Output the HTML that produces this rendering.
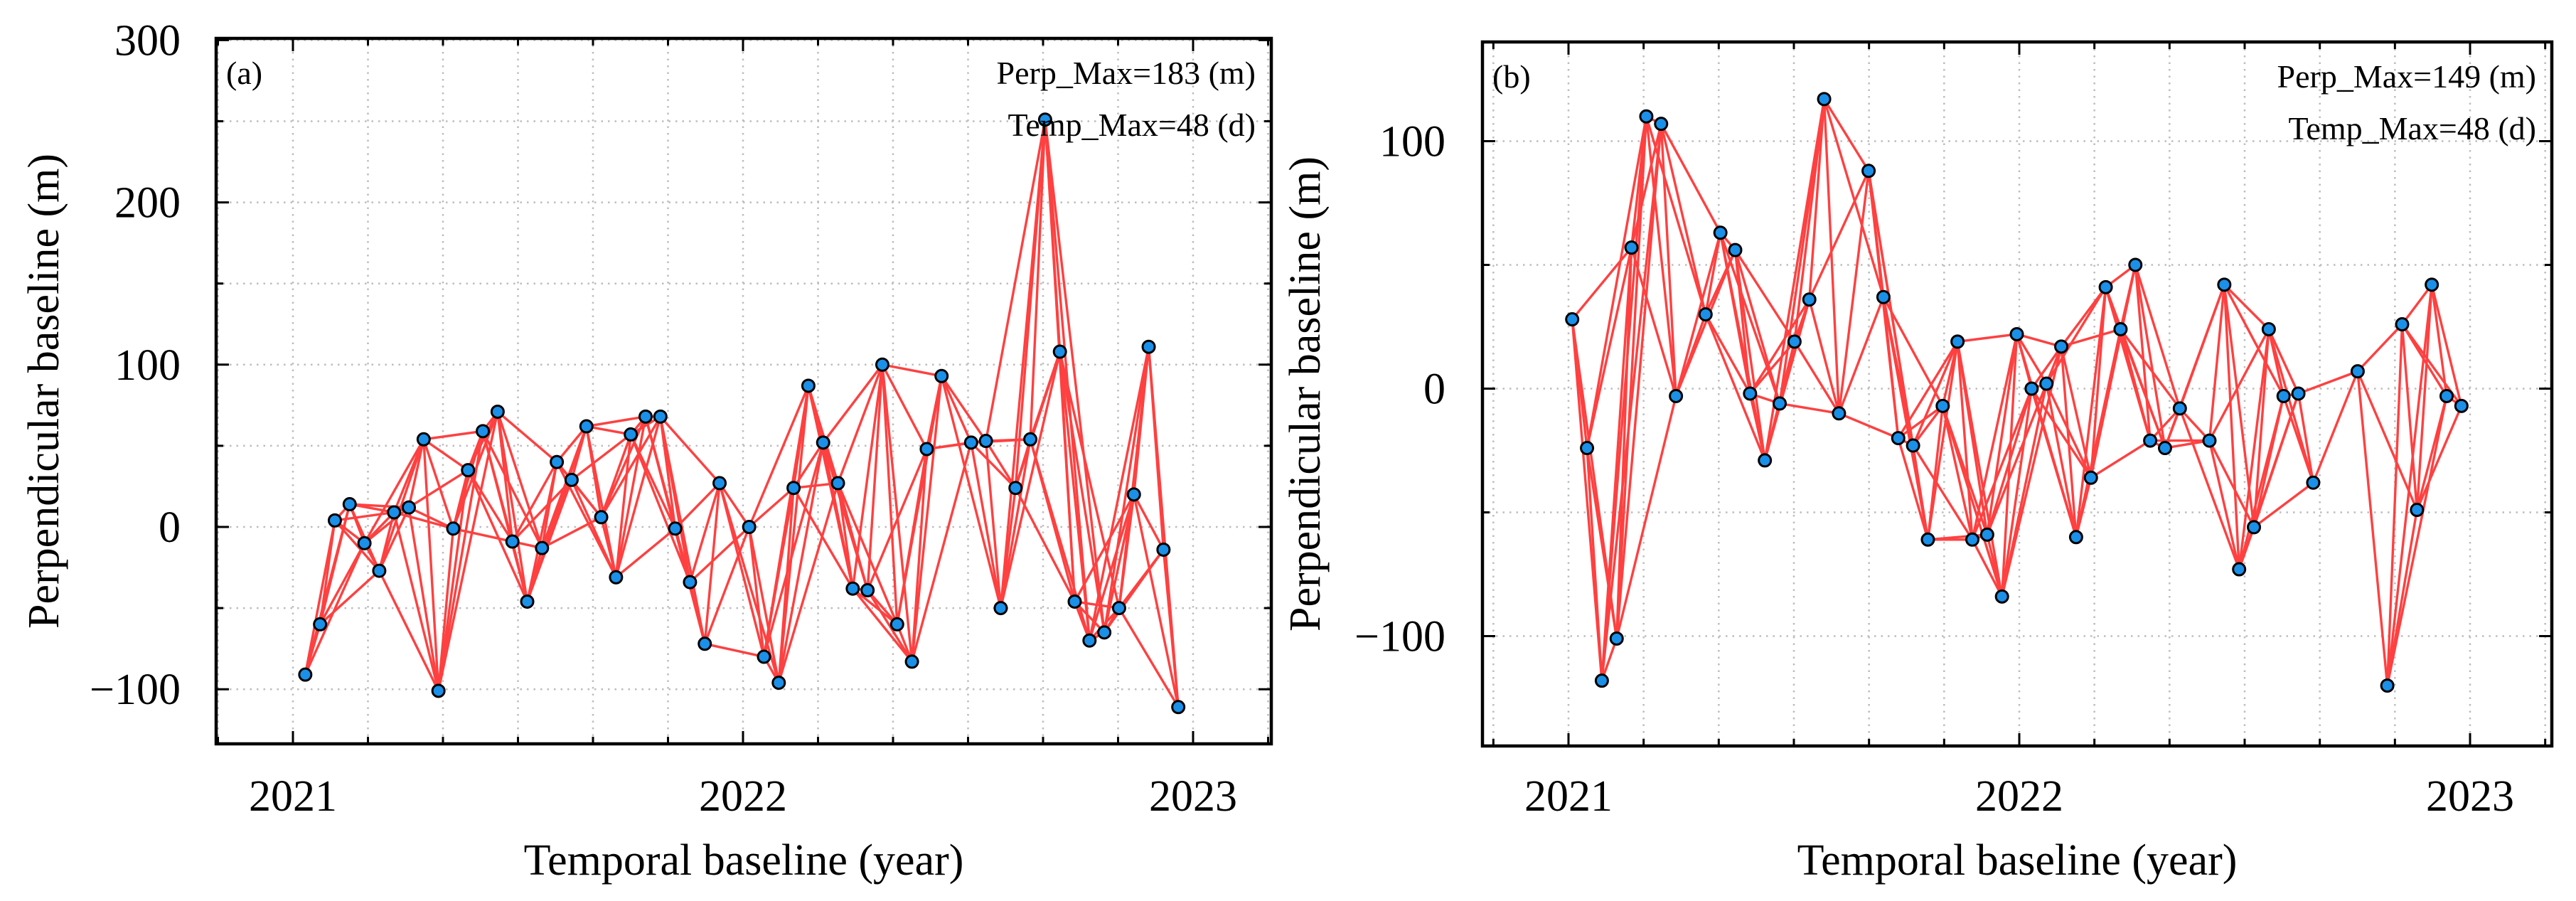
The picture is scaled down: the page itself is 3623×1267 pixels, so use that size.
<!DOCTYPE html>
<html><head><meta charset="utf-8"><style>
html,body{margin:0;padding:0;background:#fff;}
svg{display:block;font-family:"Liberation Serif",serif;}
</style></head><body>
<svg id="chart" width="3623" height="1267" viewBox="0 0 3623 1267" xmlns="http://www.w3.org/2000/svg"></svg>
<script>
// Panel (a) data: days since 2021-01-01 and perpendicular baseline (m)
const daysA = [10,22,34,46,58,70,82,94,106,118,130,142,154,166,178,190,202,214,226,238,250,262,274,286,298,310,322,334,346,370,382,394,406,418,430,442,454,466,478,490,502,514,526,550,562,574,586,598,610,622,634,646,658,670,682,694,706,718];
const perpA = [-91,-60,4,14,-10,-27,9,12,54,-101,-1,35,59,71,-9,-46,-13,40,29,62,6,-31,57,68,68,-1,-34,-72,27,0,-80,-96,24,87,52,27,-38,-39,100,-60,-83,48,93,52,53,-50,24,54,251,108,-46,-70,-65,-50,20,111,-14,-111];
// Panel (b) data
const daysB = [3,15,27,39,51,63,75,87,111,123,135,147,159,171,183,195,207,219,243,255,267,279,291,303,315,327,339,351,363,375,387,399,411,423,435,447,459,471,483,495,519,531,543,555,567,579,591,603,639,663,675,687,699,711,723];
const perpB = [28,-24,-118,-101,57,110,107,-3,30,63,56,-2,-29,-6,19,36,117,-10,88,37,-20,-23,-61,-7,19,-61,-59,-84,22,0,2,17,-60,-36,41,24,50,-21,-24,-8,-21,42,-73,-56,24,-3,-2,-38,7,-120,26,-49,42,-3,-7];
const yTicksA = [-100,0,100,200,300];
const yTicksB = [-100,0,100];
const xTickLabels = ["2021","2022","2023"];
const tempMaxDays = 48;

const NS="http://www.w3.org/2000/svg";
const svg=document.getElementById('chart');
function mk(tag,attrs,parent){const e=document.createElementNS(NS,tag);for(const k in attrs)e.setAttribute(k,attrs[k]);(parent||svg).appendChild(e);return e;}

function panel(cfg){
  const g=mk('g',{});
  
  
  const xs=d=>cfg.x0+(d/365)*cfg.xPerYear;
  const xy=yr=>cfg.x0+(yr-2021)*cfg.xPerYear;
  const ys=v=>cfg.y0-v*cfg.yPer;
  const L=cfg.left,R=cfg.right,T=cfg.top,B=cfg.bottom;
  const grid=mk('g',{stroke:'#bdbdbd','stroke-width':2.5,'stroke-dasharray':'2.5,7'},g);
  
  
  for(let i=-6;i<=18;i++){const x=xy(2021+i/6);if(x>L+2&&x<R-2)mk('line',{x1:x,x2:x,y1:T,y2:B},grid);}
  for(let v=-200;v<=400;v+=50){const y=ys(v);if(y>T+2&&y<B-2)mk('line',{x1:L,x2:R,y1:y,y2:y},grid);}
  const tk=mk('g',{stroke:'#000','stroke-width':3},g);
  
  
  for(let i=-6;i<=18;i++){const x=xy(2021+i/6);if(x<=L||x>=R)continue;const len=(i%6===0)?18:10;
    mk('line',{x1:x,x2:x,y1:B,y2:B-len},tk);mk('line',{x1:x,x2:x,y1:T,y2:T+len},tk);}
  for(let v=-200;v<=400;v+=50){const y=ys(v);if(y<=T||y>=B)continue;const len=(v%100===0)?18:10;
    mk('line',{x1:L,x2:L+len,y1:y,y2:y},tk);mk('line',{x1:R,x2:R-len,y1:y,y2:y},tk);}
  const eg=mk('g',{stroke:'#ff4040','stroke-width':3.4},g);
  
  
  const D=cfg.days,P=cfg.perp;
  for(let i=0;i<D.length;i++)for(let j=i+1;j<D.length;j++){
    if(D[j]-D[i]<=tempMaxDays){const ln=mk('line',{x1:xs(D[i]),y1:ys(P[i]),x2:xs(D[j]),y2:ys(P[j])},eg);
      
      }
  }
  const pg=mk('g',{fill:'#1a90e8',stroke:'#000','stroke-width':3},g);
  
  
  for(let i=0;i<D.length;i++){const c=mk('circle',{cx:xs(D[i]),cy:ys(P[i]),r:8.5},pg);
    
    }
  const fr=mk('rect',{x:L,y:T,width:R-L,height:B-T,fill:'none',stroke:'#000','stroke-width':4.5},g);
  
  
  cfg.yTicks.forEach(v=>{const t=mk('text',{x:cfg.yLabelX,y:ys(v)+21,'text-anchor':'end','font-size':62},g);
    t.textContent=(v<0?'\u2212'+(-v):String(v));
    
    });
  xTickLabels.forEach(s=>{const t=mk('text',{x:xy(+s),y:1140,'text-anchor':'middle','font-size':62},g);
    t.textContent=s;
    
    });
  const xt=mk('text',{x:(L+R)/2,y:1230,'text-anchor':'middle','font-size':62},g);
  xt.textContent='Temporal baseline (year)';
  
  
  const cy=(T+B)/2;
  const yt=mk('text',{x:cfg.yTitleX,y:cy,'text-anchor':'middle','font-size':62,transform:`rotate(-90 ${cfg.yTitleX} ${cy})`},g);
  yt.textContent='Perpendicular baseline (m)';
  
  
  const pl=mk('text',{x:L+14,y:T+64,'font-size':46},g);
  pl.textContent=cfg.label;
  
  
  const a1=mk('text',{x:R-22,y:T+64,'text-anchor':'end','font-size':46},g);
  a1.textContent=cfg.perpText;
  
  
  const a2=mk('text',{x:R-22,y:T+137,'text-anchor':'end','font-size':46},g);
  a2.textContent='Temp_Max=48 (d)';
  
  
}
panel({name:'panel-a',days:daysA,perp:perpA,yTicks:yTicksA,x0:412,xPerYear:633,y0:741,yPer:2.282,
  left:304,right:1788,top:54,bottom:1046,yLabelX:254,yTitleX:82,label:'(a)',perpText:'Perp_Max=183 (m)'});
panel({name:'panel-b',days:daysB,perp:perpB,yTicks:yTicksB,x0:2206,xPerYear:634,y0:546.5,yPer:3.48,
  left:2085,right:3589,top:59,bottom:1049,yLabelX:2033,yTitleX:1856,label:'(b)',perpText:'Perp_Max=149 (m)'});
</script>
</body></html>
